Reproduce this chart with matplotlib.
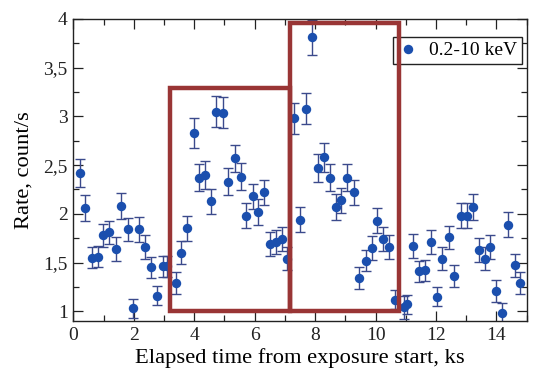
import matplotlib
matplotlib.use("Agg")
import matplotlib.pyplot as plt
from matplotlib.patches import Rectangle
from matplotlib.ticker import MultipleLocator, FuncFormatter

plt.rcParams['font.family'] = ['Liberation Serif', 'DejaVu Serif']

# Light curve: time bin centres (ks), count rate (count/s), 1-sigma errors
time_ks = [0.22, 0.39, 0.61, 0.81, 0.99, 1.19, 1.40, 1.58, 1.80, 1.98,
           2.18, 2.38, 2.56, 2.77, 2.96, 3.09, 3.39, 3.55, 3.76, 3.98,
           4.15, 4.35, 4.54, 4.72, 4.94, 5.13, 5.34, 5.55, 5.73, 5.93,
           6.12, 6.30, 6.50, 6.70, 6.90, 7.08, 7.31, 7.50, 7.71, 7.90,
           8.08, 8.28, 8.48, 8.69, 8.87, 9.07, 9.28, 9.46, 9.67, 9.87,
           10.05, 10.25, 10.44, 10.63, 10.95, 11.05, 11.24, 11.44, 11.63, 11.83,
           12.02, 12.21, 12.42, 12.61, 12.82, 13.01, 13.22, 13.42, 13.61, 13.80,
           14.00, 14.19, 14.38, 14.60, 14.78]
rate = [2.42, 2.06, 1.55, 1.56, 1.78, 1.81, 1.64, 2.08, 1.84, 1.03,
        1.84, 1.66, 1.45, 1.16, 1.46, 1.46, 1.29, 1.60, 1.85, 2.83,
        2.37, 2.40, 2.13, 3.05, 3.04, 2.33, 2.57, 2.38, 1.98, 2.18,
        2.02, 2.22, 1.69, 1.71, 1.74, 1.54, 2.98, 1.94, 3.08, 3.81,
        2.47, 2.58, 2.37, 2.07, 2.14, 2.37, 2.22, 1.34, 1.52, 1.65,
        1.93, 1.74, 1.66, 1.12, 1.04, 1.07, 1.67, 1.41, 1.42, 1.71,
        1.15, 1.54, 1.76, 1.36, 1.98, 1.98, 2.07, 1.63, 1.54, 1.66,
        1.21, 0.98, 1.89, 1.47, 1.29]
rate_err = [0.14, 0.13, 0.11, 0.11, 0.12, 0.12, 0.12, 0.13, 0.12, 0.10,
            0.13, 0.12, 0.11, 0.10, 0.11, 0.11, 0.11, 0.12, 0.13, 0.15,
            0.14, 0.14, 0.13, 0.16, 0.16, 0.14, 0.14, 0.14, 0.13, 0.13,
            0.13, 0.13, 0.12, 0.12, 0.12, 0.12, 0.16, 0.13, 0.16, 0.18,
            0.14, 0.15, 0.14, 0.13, 0.13, 0.14, 0.13, 0.11, 0.11, 0.12,
            0.13, 0.12, 0.12, 0.10, 0.12, 0.10, 0.12, 0.11, 0.11, 0.12,
            0.10, 0.12, 0.12, 0.11, 0.13, 0.13, 0.13, 0.12, 0.12, 0.12,
            0.11, 0.10, 0.13, 0.12, 0.11]

# Highlighted intervals: (t_start, t_end, rate_low, rate_high)
flare_boxes = [(3.20, 7.17, 1.0, 3.29),
               (7.17, 10.78, 1.0, 3.96)]

band_label = "0.2-10 keV"

fig = plt.figure(figsize=(5.33, 3.68), dpi=100)
ax = fig.add_axes([0.1375, 0.1277, 0.8507, 0.8207])

ax.errorbar(time_ks, rate, yerr=rate_err, fmt='none', ecolor='#3b4a8c',
            elinewidth=1.0, capsize=3.5, capthick=1.0, zorder=2)
ax.plot(time_ks, rate, 'o', color='#1b4fae', markersize=6.8,
        markeredgewidth=0, label=band_label, zorder=3)

for t0, t1, r0, r1 in flare_boxes:
    ax.add_patch(Rectangle((t0, r0), t1 - t0, r1 - r0, fill=False,
                           edgecolor='#993535', linewidth=3.2, zorder=5))

ax.set_xlim(0, 15)
ax.set_ylim(0.9, 4.0)
ax.xaxis.set_major_locator(MultipleLocator(2))
ax.xaxis.set_minor_locator(MultipleLocator(1))
ax.yaxis.set_major_locator(MultipleLocator(0.5))
ax.yaxis.set_minor_locator(MultipleLocator(0.25))


def comma_fmt(v, pos):
    s = ('%g' % v)
    return s.replace('.', ',')


ax.yaxis.set_major_formatter(FuncFormatter(comma_fmt))
ax.tick_params(which='both', direction='in', top=True, right=True,
               labelsize=14, colors='#222222')
ax.tick_params(which='major', length=7, width=0.9, pad=4)
ax.tick_params(which='minor', length=4, width=0.9)
for s in ax.spines.values():
    s.set_linewidth(1.0)
    s.set_color('#222222')

ax.set_xlabel("Elapsed time from exposure start, ks", fontsize=16.2,
              labelpad=3)
ax.set_ylabel("Rate, count/s", fontsize=16.2, labelpad=7)

leg = ax.legend(loc='upper right', bbox_to_anchor=(0.9896, 0.9404),
                borderaxespad=0, fancybox=False, framealpha=1,
                edgecolor='#222222', fontsize=14, handlelength=1.0,
                handletextpad=0.6, borderpad=0.25)
leg.get_frame().set_linewidth(1.0)
leg.set_zorder(4)

fig.savefig("out.png", dpi=100)
